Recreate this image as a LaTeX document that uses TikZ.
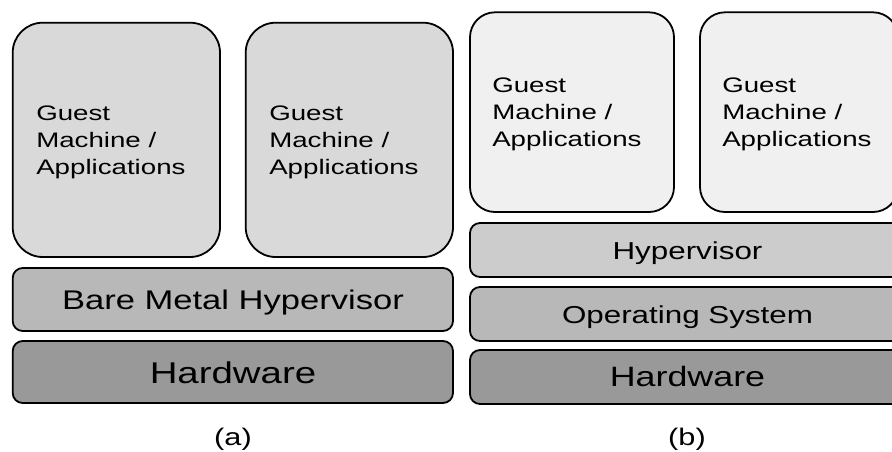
\documentclass[tikz,border=0pt]{standalone}
\usepackage{fontspec}
\setmainfont{Liberation Sans}
\begin{document}
\begin{tikzpicture}[x=1pt,y=-1pt,
  layer/.style={draw=black,line width=1.8pt,rounded corners=10pt},
  guest/.style={draw=black,line width=1.8pt},
  wide/.style={xscale=1.28,inner sep=0pt},
  lbl/.style={wide,anchor=base},
  gtext/.style={wide,xscale=1.03,align=left,anchor=north west,font=\fontsize{21}{27}\selectfont},
  sublabel/.style={lbl,font=\fontsize{24}{28}\selectfont}
]
\useasboundingbox (0,0) rectangle (892,451);
\clip (0,0) rectangle (892,451);

% ---- (a) bare metal hypervisor stack
\filldraw[guest,fill=black!15,rounded corners=30pt] (12.7,22.7) rectangle (220,257);
\filldraw[guest,fill=black!15,rounded corners=30pt] (245.7,22.7) rectangle (453,257);
\node[gtext] (ga1) at (36,105.5) {Guest\\Machine /\\Applications};
\node[gtext] (ga2) at (269,105.5) {Guest\\Machine /\\Applications};
\filldraw[layer,fill=black!28] (12.7,268) rectangle (453,331);
\node[lbl,font=\fontsize{27}{30}\selectfont] (bmh) at (233,309.3) {Bare Metal Hypervisor};
\filldraw[layer,fill=black!40] (12.7,341) rectangle (453,403);
\node[lbl,font=\fontsize{30}{34}\selectfont] (hwa) at (233,383.3) {Hardware};
\node[sublabel] (la) at (233,445) {(a)};

% ---- (b) hosted hypervisor stack
\filldraw[guest,fill=black!6,rounded corners=25pt] (470,12.3) rectangle (674,212);
\filldraw[guest,fill=black!6,rounded corners=25pt] (700,12.3) rectangle (898,212);
\node[gtext] (gb1) at (492,77.5) {Guest\\Machine /\\Applications};
\node[gtext] (gb2) at (722,77.5) {Guest\\Machine /\\Applications};
\filldraw[layer,fill=black!20] (470,223) rectangle (902,277);
\node[lbl,font=\fontsize{24.5}{28}\selectfont] (hyp) at (687.5,259.3) {Hypervisor};
\filldraw[layer,fill=black!28] (470,287) rectangle (902,341);
\node[lbl,font=\fontsize{24.5}{28}\selectfont] (os) at (687.5,323.3) {Operating System};
\filldraw[layer,fill=black!40] (470,350) rectangle (902,404);
\node[lbl,font=\fontsize{28}{31}\selectfont] (hwb) at (687.5,386.7) {Hardware};
\node[sublabel] (lb) at (687,445) {(b)};
\end{tikzpicture}
\end{document}
